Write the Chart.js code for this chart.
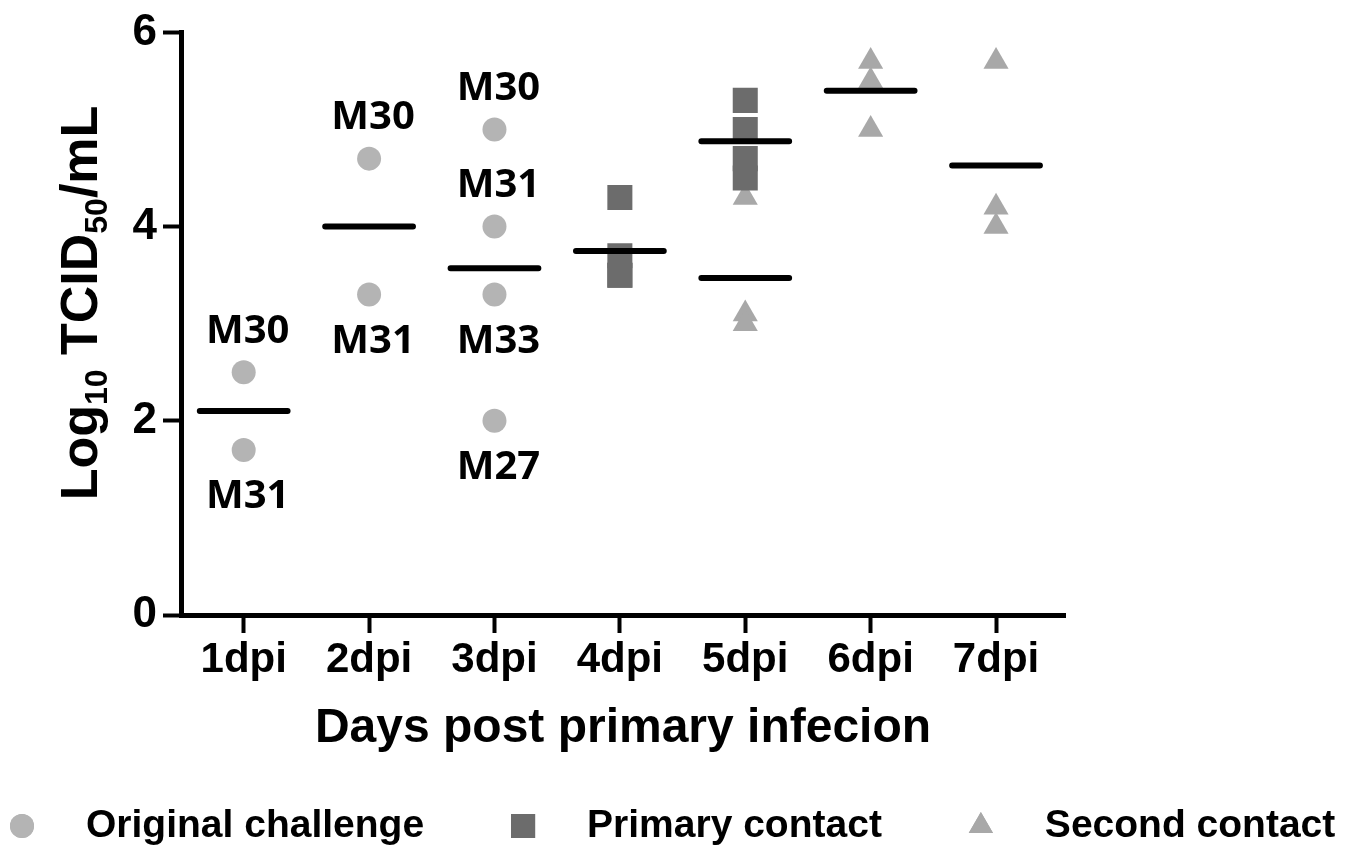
<!DOCTYPE html>
<html>
<head>
<meta charset="utf-8">
<script src="https://cdn.jsdelivr.net/npm/chart.js@4.4.1/dist/chart.umd.min.js"></script>
<style>
  html, body { margin: 0; padding: 0; background: #fff; }
  #wrap { width: 1355px; height: 848px; }
</style>
</head>
<body>
<div id="wrap"><canvas id="myChart" width="1355" height="848"></canvas></div>
<script>
const days = ['1dpi', '2dpi', '3dpi', '4dpi', '5dpi', '6dpi', '7dpi'];
const yTicks = [0, 2, 4, 6];

// [day, log10 TCID50/mL] one entry per animal
const originalChallenge = [[1, 2.5], [1, 1.7], [2, 4.7], [2, 3.3], [3, 5.0], [3, 4.0], [3, 3.3], [3, 2.0]];
const primaryContact = [[4, 4.3], [4, 3.7], [4, 3.5], [4, 3.5], [5, 5.3], [5, 5.0], [5, 4.7], [5, 4.5]];
const secondContact = [[5, 4.3], [5, 3.1], [5, 3.0], [6, 5.7], [6, 5.5], [6, 5.0], [7, 5.7], [7, 4.2], [7, 4.0]];

// group means, drawn as short black bars
const groupMeans = [[1, 2.1], [2, 4.0], [3, 3.57], [4, 3.75], [5, 4.88], [5, 3.47], [6, 5.4], [7, 4.63]];

// animal ids written next to the original challenge points
const animalIds = [
  [1, 2.5, 'M30', 'above'], [1, 1.7, 'M31', 'below'],
  [2, 4.7, 'M30', 'above'], [2, 3.3, 'M31', 'below'],
  [3, 5.0, 'M30', 'above'], [3, 4.0, 'M31', 'above'],
  [3, 3.3, 'M33', 'below'], [3, 2.0, 'M27', 'below'],
];

const FONT = '"Liberation Sans", Arial, sans-serif';
const toPts = (arr) => arr.map(([x, y]) => ({ x, y }));

// each mean becomes a 2-point segment, broken by a null
const meanLine = [];
groupMeans.forEach(([d, m]) => {
  meanLine.push({ x: d - 0.35, y: m }, { x: d + 0.35, y: m }, { x: d, y: null });
});

const extrasPlugin = {
  id: 'extras',
  afterDraw(chart) {
    const { ctx, scales: { x, y } } = chart;
    ctx.save();
    ctx.fillStyle = '#000';

    // animal ids
    ctx.font = 'bold 40px "Open Sans", sans-serif';
    ctx.textAlign = 'center';
    ctx.textBaseline = 'middle';
    animalIds.forEach(([d, v, id, side]) => {
      const px = x.getPixelForValue(d) + 4;
      const py = y.getPixelForValue(v) + (side === 'above' ? -41 : 47);
      ctx.fillText(id, px, py);
    });

    // y title with subscripts
    const size = 52;
    const parts = [['Log', false], ['10', true], [' TCID', false], ['50', true], ['/mL', false]];
    const fontFor = (sub) => 'bold ' + (sub ? Math.round(size * 0.62) : size) + 'px ' + FONT;
    let total = 0;
    parts.forEach(([t, sub]) => { ctx.font = fontFor(sub); total += ctx.measureText(t).width; });
    ctx.translate(78, 303);
    ctx.rotate(-Math.PI / 2);
    ctx.textAlign = 'left';
    ctx.textBaseline = 'alphabetic';
    let cx = -total / 2;
    const base = size * 0.36;
    parts.forEach(([t, sub]) => {
      ctx.font = fontFor(sub);
      ctx.fillText(t, cx, base + (sub ? size * 0.2 : 0));
      cx += ctx.measureText(t).width;
    });
    ctx.restore();

    // legend
    ctx.save();
    ctx.font = 'bold 39px ' + FONT;
    ctx.textAlign = 'left';
    ctx.textBaseline = 'middle';
    const ly = 826;
    let lx = 22;
    chart.data.datasets.slice(1).forEach((ds) => {
      ctx.fillStyle = ds.backgroundColor;
      const r = ds.pointStyle === 'rect' ? 17 : ds.pointStyle === 'triangle' ? 14 : 12;
      Chart.helpers.drawPoint(ctx, { pointStyle: ds.pointStyle, radius: r, rotation: 0, borderWidth: 0 }, lx, ly);
      ctx.fill();
      ctx.fillStyle = '#000';
      ctx.fillText(ds.label, lx + 64, ly);
      lx += 64 + ctx.measureText(ds.label).width + 99;
    });
    ctx.restore();
  }
};

const axisStyle = {
  grid: { drawOnChartArea: false, tickLength: 18, tickWidth: 4, tickColor: '#000' },
  border: { color: '#000', width: 5 },
};

const ctx = document.getElementById('myChart').getContext('2d');
new Chart(ctx, {
  type: 'scatter',
  data: {
    datasets: [
      {
        label: 'mean', data: meanLine, showLine: true, spanGaps: false,
        borderColor: '#000', borderWidth: 6, borderCapStyle: 'round',
        pointRadius: 0, order: 0,
      },
      {
        label: 'Original challenge', data: toPts(originalChallenge),
        pointStyle: 'circle', pointRadius: 12, backgroundColor: '#b4b4b4', borderWidth: 0, order: 1,
      },
      {
        label: 'Primary contact', data: toPts(primaryContact),
        pointStyle: 'rect', pointRadius: 17.7, backgroundColor: '#6c6c6c', borderWidth: 0, order: 1,
      },
      {
        label: 'Second contact', data: toPts(secondContact),
        pointStyle: 'triangle', pointRadius: 14.5, backgroundColor: '#a8a8a8', borderWidth: 0, order: 1,
      },
    ],
  },
  options: {
    responsive: false,
    animation: false,
    layout: { padding: { left: 0, right: 290, top: 32, bottom: 90 } },
    plugins: { legend: { display: false }, tooltip: { enabled: false } },
    scales: {
      x: {
        type: 'linear', min: 0.5, max: 7.55,
        afterBuildTicks: (s) => { s.ticks = days.map((d, i) => ({ value: i + 1 })); },
        afterFit: (s) => { s.height = 143; },
        ticks: {
          callback: (v) => days[Math.round(v) - 1],
          font: { family: FONT, size: 42, weight: 'bold' }, color: '#000',
          padding: 2, autoSkip: false, maxRotation: 0,
        },
        title: {
          display: true, text: 'Days post primary infecion', color: '#000',
          font: { family: FONT, size: 48, weight: 'bold' }, padding: 0,
        },
        ...axisStyle,
      },
      y: {
        min: 0, max: 6,
        afterBuildTicks: (s) => { s.ticks = yTicks.map((v) => ({ value: v })); },
        afterFit: (s) => { s.width = 181; },
        ticks: { font: { family: FONT, size: 44, weight: 'bold' }, color: '#000', padding: 6 },
        ...axisStyle,
      },
    },
  },
  plugins: [extrasPlugin],
});
</script>
</body>
</html>
